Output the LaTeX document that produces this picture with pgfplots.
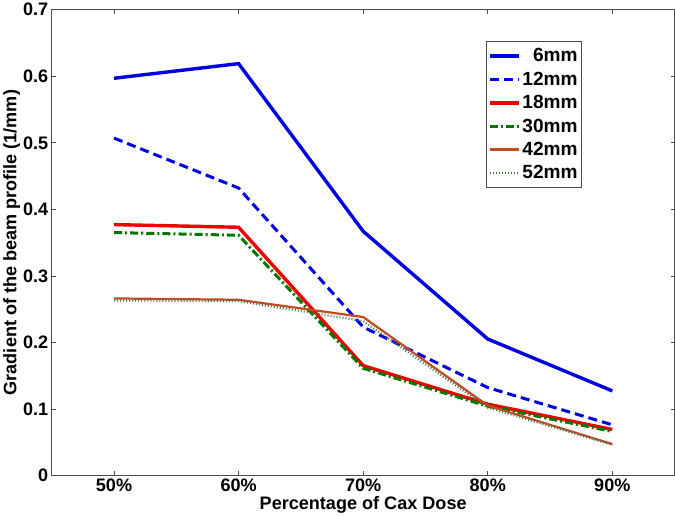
\documentclass[border=0pt]{standalone}
\usepackage{pgfplots}
\pgfplotsset{compat=1.18}
\usepackage{fontspec}
\setmainfont{Liberation Sans}
\definecolor{cblue}{RGB}{0,0,225}
\definecolor{cred}{RGB}{240,0,0}
\definecolor{cgreen}{RGB}{0,120,0}
\definecolor{cbrown}{RGB}{195,75,35}
\definecolor{cdot}{RGB}{70,120,70}
\begin{document}
\begin{tikzpicture}
\begin{axis}[
  scale only axis, width=618bp, height=462bp,
  xmin=45, xmax=95, ymin=0, ymax=0.7,
  xtick={50,60,70,80,90},
  xticklabels={50\%,60\%,70\%,80\%,90\%},
  ytick={0,0.1,0.2,0.3,0.4,0.5,0.6,0.7},
  yticklabels={0,0.1,0.2,0.3,0.4,0.5,0.6,0.7},
  tick align=inside,
  major tick length=4bp,
  axis line style={black!70, line width=0.8pt},
  every tick/.style={black!70, line width=0.6pt},
  tick label style={font=\fontsize{18}{20}\selectfont\bfseries},
  label style={font=\fontsize{18}{20}\selectfont\bfseries},
  xlabel={Percentage of Cax Dose},
  ylabel={Gradient of the beam profile (1/mm)},
  xlabel style={yshift=2bp},
  ylabel style={yshift=-4bp},
  legend style={at={(0.851,0.932)}, anchor=north east, draw=black!70,
    font=\fontsize{19}{21}\selectfont\bfseries, row sep=4.5bp,
    inner xsep=2bp, inner ysep=5bp, cells={anchor=east}},
  legend cell align=right,
  legend image code/.code={\draw[#1] (0cm,0cm) -- (1.0cm,0cm);},
]
\addplot[cblue, line width=3.4pt] coordinates {(50,0.597) (60,0.619) (70,0.367) (80,0.205) (90,0.127)};
\addlegendentry{6mm}
\addplot[cblue, line width=3pt, dash pattern=on 9bp off 5bp] coordinates {(50,0.507) (60,0.432) (70,0.223) (80,0.132) (90,0.076)};
\addlegendentry{12mm}
\addplot[cred, line width=3.4pt] coordinates {(50,0.377) (60,0.373) (70,0.165) (80,0.107) (90,0.069)};
\addlegendentry{18mm}
\addplot[cgreen, line width=3pt, dash pattern=on 8bp off 3bp on 2bp off 3bp] coordinates {(50,0.365) (60,0.361) (70,0.161) (80,0.104) (90,0.066)};
\addlegendentry{30mm}
\addplot[cbrown, line width=2.2pt] coordinates {(50,0.266) (60,0.264) (70,0.238) (80,0.105) (90,0.047)};
\addlegendentry{42mm}
\addplot[cdot, line width=2.2pt, dash pattern=on 1bp off 2bp] coordinates {(50,0.263) (60,0.262) (70,0.232) (80,0.102) (90,0.046)};
\addlegendentry{52mm}
\end{axis}
\end{tikzpicture}
\end{document}
